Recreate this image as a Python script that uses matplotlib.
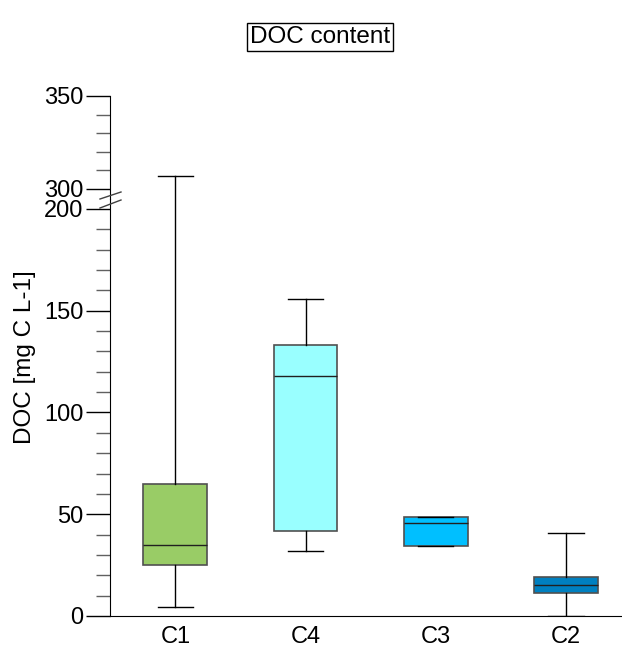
import matplotlib
matplotlib.use('Agg')
import matplotlib.pyplot as plt
from matplotlib.ticker import MultipleLocator

plt.rcParams['font.family'] = ['Liberation Sans', 'DejaVu Sans']

groups = ['C1', 'C4', 'C3', 'C2']
whislo = [4.5, 32, 34.4, 0]
q1 = [25, 42, 34.4, 11.3]
med = [35, 118, 45.7, 15.2]
q3 = [65, 133, 48.6, 19]
whishi = [307, 156, 48.6, 41]
colors = ['#99cc66', '#99ffff', '#00bfff', '#0080c0']

stats = []
for i, g in enumerate(groups):
    stats.append({'label': g, 'whislo': whislo[i], 'q1': q1[i], 'med': med[i],
                  'q3': q3[i], 'whishi': whishi[i], 'fliers': []})

fig = plt.figure(figsize=(6.22, 6.48), dpi=100)
ax_lo = fig.add_axes([0.1768, 0.0494, 0.8232, 0.6435])
ax_hi = fig.add_axes([0.1768, 0.6929, 0.8232, 0.159])

for ax in (ax_lo, ax_hi):
    bp = ax.bxp(stats, positions=[1, 2, 3, 4], widths=0.49, capwidths=0.27,
                patch_artist=True, showfliers=False,
                boxprops=dict(edgecolor='#505050', linewidth=1.2),
                medianprops=dict(color='#202020', linewidth=1),
                whiskerprops=dict(color='black', linewidth=1),
                capprops=dict(color='black', linewidth=1))
    for patch, c in zip(bp['boxes'], colors):
        patch.set_facecolor(c)
    ax.set_xlim(0.498, 4.43)
    ax.spines['top'].set_visible(False)
    ax.spines['right'].set_visible(False)
    ax.tick_params(axis='y', which='major', length=17, width=1, labelsize=17, pad=2)
    ax.tick_params(axis='y', which='minor', length=10, width=1, color='#606060')

ax_lo.set_ylim(0, 204.9)
ax_lo.yaxis.set_major_locator(MultipleLocator(50))
ax_lo.yaxis.set_minor_locator(MultipleLocator(10))
ax_lo.tick_params(axis='x', length=0, labelsize=17, pad=7)
ax_lo.set_xticks([1, 2, 3, 4])
ax_lo.set_xticklabels(groups)
ax_lo.set_ylabel('DOC [mg C L-1]', fontsize=17.5)
ax_lo.yaxis.set_label_coords(-0.145, 0.62)

ax_hi.set_ylim(294.6, 350)
ax_hi.set_yticks([300, 350])
ax_hi.yaxis.set_minor_locator(MultipleLocator(10))
ax_hi.spines['bottom'].set_visible(False)
ax_hi.tick_params(axis='x', bottom=False, labelbottom=False)

# axis break marks
fw, fh = 622, 648
for y0, y1 in [(199, 192), (208, 200)]:
    fig.add_artist(plt.Line2D([100 / fw, 121 / fw], [1 - y0 / fh, 1 - y1 / fh],
                              color='#404040', linewidth=1))

fig.text(320 / fw, 1 - 37 / fh, 'DOC content', fontsize=17.5, ha='center', va='center',
         bbox=dict(boxstyle='square,pad=0.12', facecolor='white', edgecolor='black', linewidth=1))

fig.savefig('out.png', dpi=100)
